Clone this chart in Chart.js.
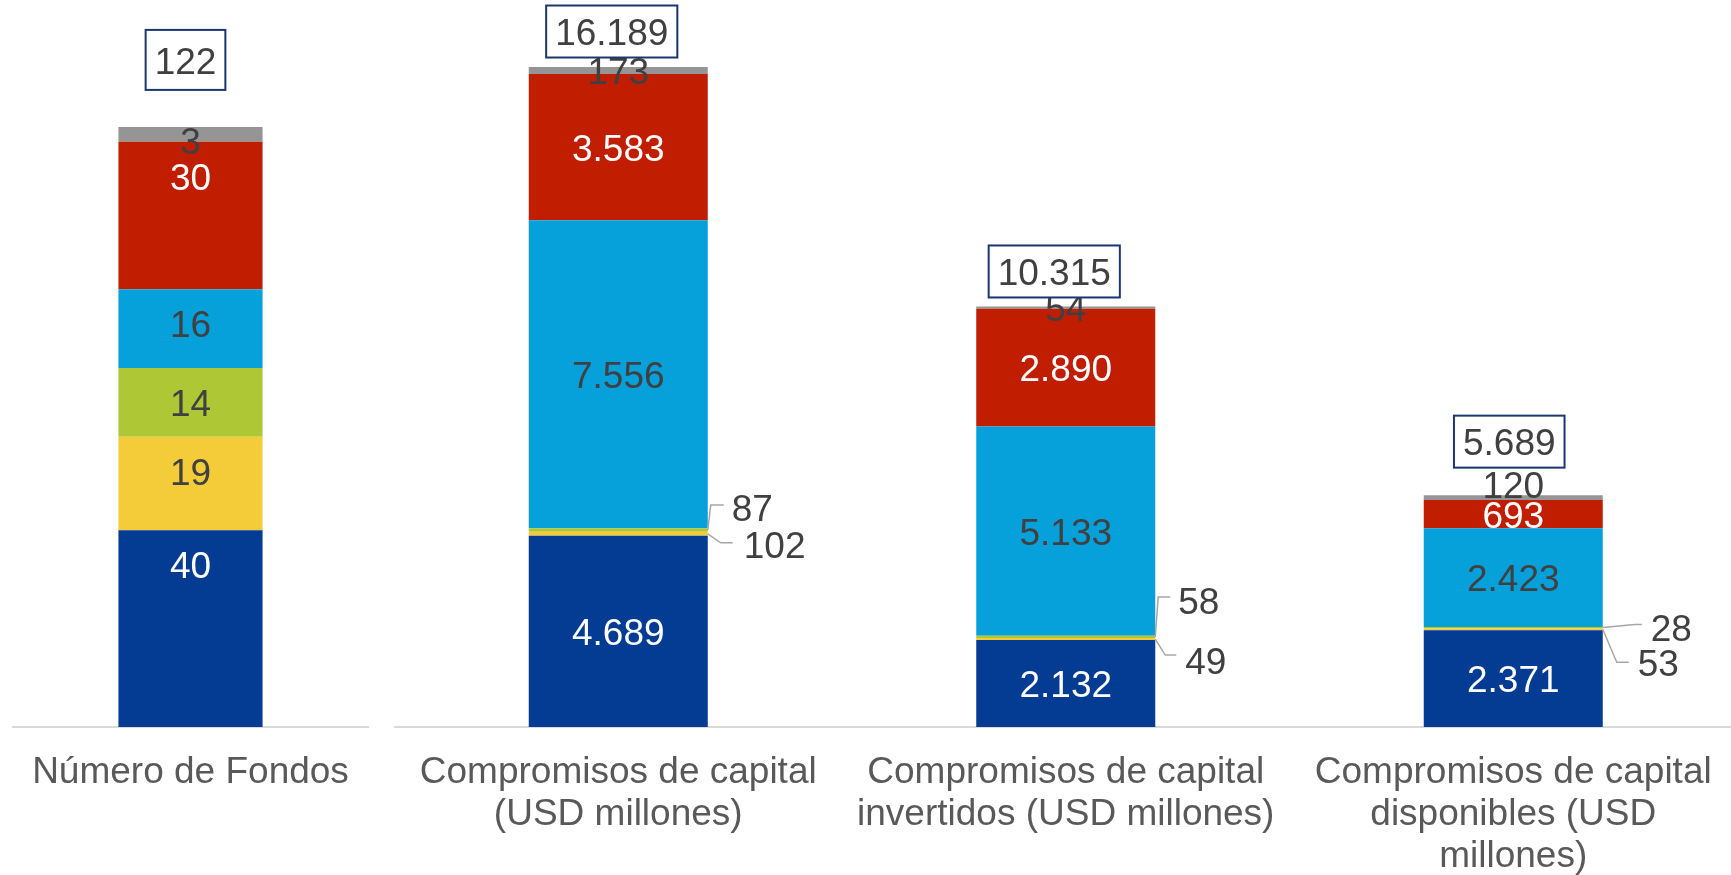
<!DOCTYPE html>
<html>
<head>
<meta charset="utf-8">
<script src="https://cdn.jsdelivr.net/npm/chart.js@4.4.1/dist/chart.umd.min.js"></script>
<style>
  html, body { margin: 0; padding: 0; background: #fff; overflow: hidden; }
  #wrap { position: relative; width: 1731px; height: 875px; overflow: hidden; }
  #leftChart { position: absolute; left: 0; top: 0; }
  #rightChart { position: absolute; left: 384px; top: 0; }
</style>
</head>
<body>
<div id="wrap">
  <canvas id="leftChart" width="384" height="875"></canvas>
  <canvas id="rightChart" width="1353" height="875"></canvas>
</div>
<script>
// Datos: primer valor = Número de Fondos, resto = USD millones
const categories = [
    ['Número de Fondos'],
    ['Compromisos de capital', '(USD millones)'],
    ['Compromisos de capital', 'invertidos (USD millones)'],
    ['Compromisos de capital', 'disponibles (USD', 'millones)']
];
const darkBlue  = [40, 4689, 2132, 2371];
const yellow    = [19, 102, 49, 53];
const green     = [14, 87, 58, 28];
const lightBlue = [16, 7556, 5133, 2423];
const red       = [30, 3583, 2890, 693];
const gray      = [3, 173, 54, 120];
const totals    = [122, 16189, 10315, 5689];

const FONT = '"Liberation Sans", Arial, sans-serif';
const DARK = '#404040';
const TEXT_SHIFT = 3.5; // ajuste vertical del texto

// formato 4689 -> 4.689
function fmt(v) {
    return String(v).replace(/\B(?=(\d{3})+(?!\d))/g, '.');
}

// Series de abajo hacia arriba
const seriesDefs = [
    { key: 'darkBlue',  data: darkBlue,  color: '#043B93', labelColor: '#ffffff' },
    { key: 'yellow',    data: yellow,    color: '#F4CC3A', labelColor: DARK },
    { key: 'green',     data: green,     color: '#AEC835', labelColor: DARK },
    { key: 'lightBlue', data: lightBlue, color: '#06A0DB', labelColor: DARK },
    { key: 'red',       data: red,       color: '#C11D00', labelColor: '#ffffff' },
    { key: 'gray',      data: gray,      color: '#959595', labelColor: DARK }
];

function buildDatasets(from, to, barPct) {
    return seriesDefs.map(s => ({
        label: s.key,
        key: s.key,
        data: s.data.slice(from, to),
        backgroundColor: s.color,
        labelColor: s.labelColor,
        borderWidth: 0,
        barPercentage: barPct,
        categoryPercentage: 1
    }));
}

// Etiquetas de segmentos, llamadas con línea guía y totales en recuadro
const labelPlugin = {
    id: 'segLabels',
    afterDatasetsDraw(chart, args, opts) {
        const ctx = chart.ctx;
        ctx.save();
        ctx.font = '37px ' + FONT;
        ctx.textBaseline = 'middle';
        chart.data.datasets.forEach((ds, di) => {
            const meta = chart.getDatasetMeta(di);
            meta.data.forEach((bar, i) => {
                const top = Math.min(bar.y, bar.base);
                const bottom = Math.max(bar.y, bar.base);
                const text = fmt(ds.data[i]);
                const call = opts.callouts && opts.callouts[i] && opts.callouts[i][ds.key];
                if (call) {
                    const ax = bar.x + bar.width / 2;
                    const ay = (top + bottom) / 2;
                    ctx.strokeStyle = '#A6A6A6';
                    ctx.lineWidth = 1.5;
                    ctx.beginPath();
                    ctx.moveTo(ax, ay);
                    ctx.lineTo(ax + call.elbow[0], ay + call.elbow[1]);
                    ctx.lineTo(ax + call.end[0], ay + call.end[1]);
                    ctx.stroke();
                    ctx.fillStyle = DARK;
                    ctx.textAlign = 'left';
                    ctx.fillText(text, ax + call.text[0], ay + call.text[1] + TEXT_SHIFT);
                    return;
                }
                let y = (top + bottom) / 2;
                if (opts.mode === 'end' && bottom - top > 40) y = top + 34.5;
                y += (opts.nudge && opts.nudge[ds.key + ':' + i]) || 0;
                ctx.fillStyle = ds.labelColor;
                ctx.textAlign = 'center';
                ctx.fillText(text, bar.x, y + TEXT_SHIFT);
            });
        });

        // recuadro con el total
        const lastMeta = chart.getDatasetMeta(chart.data.datasets.length - 1);
        lastMeta.data.forEach((bar, i) => {
            const off = opts.boxOffsets[i];
            const text = fmt(opts.totals[i]);
            const w = ctx.measureText(text).width + 18;
            const h = opts.boxHeight;
            const cx = bar.x + off[0];
            const cy = Math.min(bar.y, bar.base) + off[1];
            ctx.fillStyle = '#ffffff';
            ctx.fillRect(cx - w / 2, cy - h / 2, w, h);
            ctx.strokeStyle = '#1C3670';
            ctx.lineWidth = 2;
            ctx.strokeRect(cx - w / 2, cy - h / 2, w, h);
            ctx.fillStyle = DARK;
            ctx.textAlign = 'center';
            ctx.fillText(text, cx, cy + TEXT_SHIFT);
        });
        ctx.restore();
    }
};

function makeOptions(yMax, padding, pluginOpts) {
    return {
        responsive: false,
        animation: false,
        layout: { padding: padding },
        plugins: {
            legend: { display: false },
            tooltip: { enabled: false },
            segLabels: pluginOpts
        },
        scales: {
            x: {
                stacked: true,
                grid: { display: false, drawTicks: false, tickLength: 0 },
                border: { display: true, color: '#D9D9D9', width: 2 },
                afterFit: function(scale) { scale.height = 148; },
                ticks: {
                    autoSkip: false,
                    maxRotation: 0,
                    minRotation: 0,
                    padding: 25,
                    color: '#595959',
                    font: { family: FONT, size: 37, lineHeight: 1.135 }
                }
            },
            y: {
                stacked: true,
                display: false,
                min: 0,
                max: yMax
            }
        }
    };
}

// Panel izquierdo: Número de Fondos
new Chart(document.getElementById('leftChart'), {
    type: 'bar',
    data: { labels: categories.slice(0, 1), datasets: buildDatasets(0, 1, 0.406) },
    options: makeOptions(147.8, { left: 13, right: 16, top: 0, bottom: 0 }, {
        mode: 'end',
        totals: totals.slice(0, 1),
        boxOffsets: [[-5, -67]],
        boxHeight: 60,
        nudge: { 'gray:0': 6 }
    }),
    plugins: [labelPlugin]
});

// Panel derecho: compromisos de capital
new Chart(document.getElementById('rightChart'), {
    type: 'bar',
    data: { labels: categories.slice(1), datasets: buildDatasets(1, 4, 0.40) },
    options: makeOptions(17834, { left: 10.5, right: 0, top: 0, bottom: 0 }, {
        mode: 'center',
        totals: totals.slice(1),
        boxOffsets: [[-6.5, -35.5], [-11.5, -35], [-4, -53.5]],
        boxHeight: 52,
        nudge: { 'gray:2': -13 },
        callouts: [
            { green:  { elbow: [3, -25], end: [16, -25], text: [24, -23] },
              yellow: { elbow: [13, 9], end: [25, 9], text: [36, 11] } },
            { green:  { elbow: [3, -40], end: [15, -40], text: [23, -37] },
              yellow: { elbow: [10, 16], end: [21, 16], text: [30, 21] } },
            { green:  { elbow: [32, -3], end: [39, -3], text: [48, 0] },
              yellow: { elbow: [14, 33], end: [26, 33], text: [35, 33] } }
        ]
    }),
    plugins: [labelPlugin]
});
</script>
</body>
</html>
